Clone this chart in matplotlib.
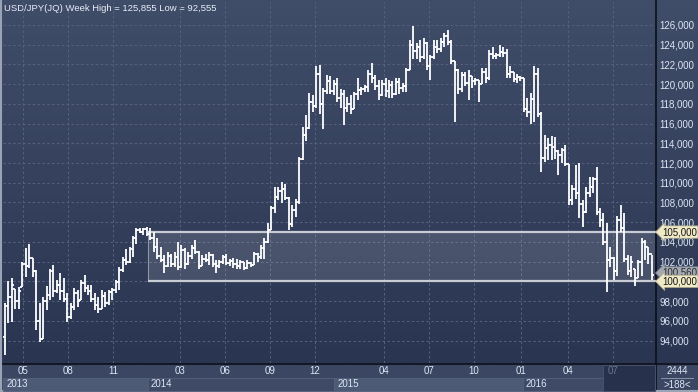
import numpy as np
import matplotlib
matplotlib.use("Agg")
import matplotlib.pyplot as plt
from matplotlib.collections import LineCollection
from matplotlib.patches import Rectangle
import matplotlib.transforms as mtrans

plt.rcParams['font.family'] = ['Liberation Sans', 'DejaVu Sans']

# ---------------- data ----------------
title = "USD/JPY(JQ) Week High = 125,855 Low = 92,555"

highs = [97.8,100.0,100.3,99.2,99.4,102.0,103.4,103.8,102.4,101.2,
         97.8,98.4,99.5,101.3,101.7,100.1,100.8,100.3,98.8,97.8,
         99.3,99.1,100.1,100.6,99.6,99.6,98.8,98.4,99.1,98.9,
         99.1,99.3,100.1,101.5,102.5,103.3,103.5,104.6,105.4,105.4,
         105.4,105.5,105.4,105.0,104.4,103.5,102.7,103.0,102.8,103.0,
         104.0,103.7,103.4,103.0,103.7,104.2,103.1,102.7,102.8,103.0,
         102.8,102.2,102.2,102.7,102.8,102.3,102.4,102.3,102.2,102.0,
         102.2,102.0,103.0,102.9,103.7,104.4,105.9,107.6,109.6,109.6,
         110.1,109.9,108.6,107.7,108.4,112.6,115.7,116.9,119.1,118.9,
         121.8,121.9,119.6,120.9,120.8,120.4,120.6,119.5,119.4,118.7,
         118.9,119.2,120.6,119.7,119.9,121.4,122.1,120.9,120.4,120.4,
         120.6,120.4,120.3,120.6,120.6,120.1,121.6,124.5,125.86,124.2,
         124.5,124.7,124.3,123.0,124.5,124.5,124.7,125.2,125.5,124.5,
         122.3,121.5,121.2,121.2,121.4,120.8,120.6,120.4,121.6,121.6,
         123.5,123.8,123.2,124.0,123.8,123.6,121.8,121.2,121.0,120.8,
         120.6,118.6,119.1,121.8,121.6,117.2,114.8,114.5,114.7,114.6,
         113.3,113.5,113.8,111.9,109.8,111.8,112.0,108.2,109.6,110.6,
         110.6,111.6,107.4,106.9,105.9,103.5,102.5,106.6,107.7,106.9,
         102.7,102.6,101.3,102.2,104.4,104.2,103.5,102.7]

lows = [92.56,95.8,95.9,97.2,97.2,99.4,100.4,101.4,100.4,95.1,
        93.8,94.2,97.1,98.1,98.4,98.8,98.1,97.9,95.9,96.2,
        97.1,97.4,98.1,98.9,98.6,97.9,97.1,96.8,97.2,97.4,
        97.6,98.1,98.8,99.1,100.9,101.7,101.9,102.5,103.8,104.9,
        104.7,104.6,104.2,103.0,102.3,102.0,100.8,101.5,101.5,101.5,
        101.2,101.4,101.3,101.7,102.3,102.8,101.3,101.6,102.0,101.7,
        101.5,100.8,101.4,101.8,101.7,101.6,101.4,101.3,101.3,101.2,
        101.3,101.5,101.7,102.0,102.3,102.3,103.9,105.2,106.9,108.2,
        107.9,108.2,105.2,105.5,106.5,107.8,112.3,114.2,115.5,117.2,
        117.6,117.0,115.5,119.0,119.0,118.9,118.2,117.6,115.9,117.2,
        117.0,117.5,118.4,118.9,119.2,119.2,120.1,119.4,118.4,118.8,
        118.7,118.6,118.6,118.9,119.0,119.2,119.2,121.4,122.5,122.6,
        122.2,122.6,121.4,120.4,122.6,123.2,123.3,123.8,124.0,122.0,
        116.2,119.0,119.2,119.8,118.4,119.6,119.9,118.2,120.0,120.1,
        120.4,122.5,122.5,122.8,122.8,120.6,120.6,120.2,120.1,120.3,
        117.2,116.7,116.0,116.2,116.7,111.1,112.1,112.3,112.3,112.4,
        110.8,112.0,111.7,107.7,107.7,108.4,106.4,105.5,106.9,108.6,
        109.0,106.7,105.5,103.7,98.9,101.5,100.1,100.5,105.0,102.0,
        100.6,100.4,99.5,100.3,100.5,102.2,101.8,100.1]

opens = [94.4,97.5,98.4,99.2,98.0,99.4,101.8,101.6,102.4,101.0,
         96.0,94.2,98.0,98.6,101.0,99.0,99.6,99.0,98.2,96.4,
         97.4,98.8,98.1,99.8,99.3,99.0,98.2,97.6,97.2,98.5,
         97.8,98.9,99.1,99.9,101.2,102.2,102.0,103.3,104.4,105.2,
         105.0,105.3,104.8,104.4,103.5,102.6,102.2,101.6,102.6,101.8,
         102.5,101.5,103.2,101.8,102.6,103.4,103.0,101.6,102.3,102.2,
         102.7,101.8,101.6,102.0,102.5,101.9,102.1,101.8,101.6,102.0,
         101.4,101.9,101.7,102.8,102.5,103.4,104.0,105.2,107.4,108.6,
         109.2,109.4,108.5,105.8,107.2,108.0,112.4,114.8,115.6,118.2,
         117.8,121.0,118.0,119.3,120.3,119.3,120.0,118.6,119.0,117.6,
         118.0,117.5,119.0,119.4,119.5,119.7,121.0,120.6,119.8,118.9,
         120.0,119.3,119.9,119.0,120.2,119.6,119.8,121.4,124.0,123.4,
         123.8,122.8,124.2,121.8,122.8,123.8,123.6,124.3,124.9,124.3,
         122.3,121.4,119.5,120.9,120.1,120.8,120.3,120.4,120.0,121.2,
         120.6,123.1,122.9,123.0,123.3,123.2,121.0,121.2,120.5,120.7,
         120.6,117.5,117.2,118.5,121.0,117.0,112.5,113.5,113.8,113.6,
         113.2,112.8,113.3,111.9,108.3,109.4,109.0,107.8,107.0,109.0,
         109.6,110.4,107.0,106.2,104.0,102.2,102.4,101.0,106.2,105.4,
         102.3,101.0,101.3,100.3,102.0,104.0,103.5,102.8]

closes = [97.5,98.4,99.6,98.0,99.0,101.8,101.6,102.4,101.0,96.0,
          94.2,98.0,98.6,101.0,99.0,99.6,99.0,98.2,96.4,97.4,
          98.8,98.0,99.8,99.3,99.0,98.2,97.6,97.2,98.5,97.8,
          98.9,99.1,99.9,101.2,102.2,102.0,103.3,104.4,105.2,105.0,
          105.3,104.8,104.4,103.5,102.6,102.2,101.6,102.6,101.8,102.5,
          101.5,103.2,101.8,102.6,103.4,103.0,101.6,102.3,102.2,102.7,
          101.8,101.6,102.0,102.5,101.9,102.1,101.8,101.6,102.0,101.4,
          101.9,101.7,102.8,102.5,103.4,104.0,105.2,107.4,108.6,109.2,
          109.4,108.5,105.8,107.2,108.0,112.4,114.8,115.6,118.2,117.8,
          121.0,118.0,119.3,120.3,119.3,120.0,118.6,119.0,117.6,118.0,
          117.5,119.0,119.4,119.5,119.7,121.0,120.6,119.8,118.9,120.0,
          119.3,119.9,119.0,120.2,119.6,119.8,121.4,124.0,123.4,123.8,
          122.8,124.2,121.8,122.8,123.8,123.6,124.3,124.9,124.3,122.3,
          121.4,119.5,120.9,120.1,120.8,120.3,120.4,120.0,121.2,120.6,
          123.1,122.9,123.0,123.3,123.2,121.0,121.2,120.5,120.7,120.6,
          117.5,117.2,118.5,121.0,117.0,112.5,113.5,113.8,113.6,113.2,
          112.8,113.3,111.9,108.3,109.4,109.0,107.8,107.0,109.0,109.6,
          110.4,107.0,106.2,104.0,102.2,102.4,101.0,106.2,105.4,102.3,
          101.0,102.0,100.3,102.0,104.0,103.5,102.8,100.6]

month_pos = [5.3, 18.3, 31.3, 50.6, 63.6, 76.6, 89.6, 109.6, 122.6, 135.6, 149.3, 162.8, 175.8]
month_labels = ["05", "08", "11", "03", "06", "09", "12", "04", "07", "10", "01", "04", "07"]
year_starts = [-0.58, 41.3, 95.2, 149.6]
year_labels = ["2013", "2014", "2015", "2016"]
yticks = list(range(94, 127, 2))
band_low, band_high = 100.0, 105.0
band_start = 41.3
current_start = 172.8
last_price = 100.85
last_price_label = "100,560"
footer_count = "2444"
footer_visible = ">188<"

# ---------------- figure ----------------
W, H = 698, 392
fig = plt.figure(figsize=(W / 100, H / 100), dpi=100)

bg = fig.add_axes([0, 0, 1, 1])
bg.set_xlim(0, W)
bg.set_ylim(H, 0)
bg.axis('off')
top_c = np.array([0x40, 0x4d, 0x69]) / 255
bot_c = np.array([0x2a, 0x35, 0x51]) / 255
t = np.linspace(0, 1, 256)[:, None]
grad = (top_c[None, :] * (1 - t) + bot_c[None, :] * t)[:, None, :]
bg.imshow(grad, extent=[0, W, 363, 0], aspect='auto', zorder=0)
bg.add_patch(Rectangle((0, 363), W, 29, fc='#3b4762', ec='none', zorder=1))
bg.plot([0, W], [363.5, 363.5], color='#0b0f18', lw=1.2, zorder=5)
bg.plot([655.5, 655.5], [0, 392], color='#0b0f18', lw=1.2, zorder=5)
bg.plot([1.2, 1.2], [0, 392], color='#9aa3b5', lw=1.5, zorder=6)
bg.plot([0, W], [391.2, 391.2], color='#9aa3b5', lw=1.5, zorder=6)
bg.text(4, 8, title, fontsize=6.8, color='#e8edf6', ha='left', va='center', zorder=6)
bg.text(677, 371, footer_count, fontsize=7, color='#dde6f4', ha='center', va='center', zorder=6)
bg.plot([661, 693], [377.5, 377.5], color='#8a94a8', lw=0.7, zorder=6)
bg.text(677, 385, footer_visible, fontsize=7, color='#dde6f4', ha='center', va='center', zorder=6)

ax = fig.add_axes([3 / W, 29 / H, 652 / W, 361 / H])
ax.patch.set_alpha(0)
xmax = len(highs) - 0.1
ax.set_xlim(-0.58, xmax)
ax.set_ylim(91.72, 128.33)
for s in ax.spines.values():
    s.set_visible(False)

ax.set_yticks(yticks)
ax.set_yticklabels([f"{v * 1000:,}" for v in yticks])
ax.yaxis.tick_right()
ax.tick_params(axis='y', length=0, pad=3, labelsize=7, labelcolor='#dde6f4')
ax.set_xticks(month_pos)
ax.set_xticklabels([])
ax.tick_params(axis='x', length=0)
ax.grid(True, color='#56637e', lw=0.7, linestyle=(0, (2.5, 2.5)), zorder=1)
ax.set_axisbelow(True)

# band
ax.add_patch(Rectangle((band_start, band_low), xmax - band_start, band_high - band_low,
                       fc='white', alpha=0.12, ec='none', zorder=2))
ax.plot([band_start, band_start], [band_low, band_high], color='#8d96a8', lw=0.8, zorder=2)
for lvl in (band_low, band_high):
    ax.plot([band_start, xmax + 0.6], [lvl, lvl], color='#c8ccd5', lw=1.6,
            zorder=3, clip_on=False, solid_capstyle='butt')

# OHLC bars
segs = []
tk = 0.55
for i, (o, h, l, c) in enumerate(zip(opens, highs, lows, closes)):
    segs.append([(i, l), (i, h)])
    segs.append([(i - tk, o), (i, o)])
    segs.append([(i, c), (i + tk, c)])
ax.add_collection(LineCollection(segs, colors='white', linewidths=1.3, zorder=4,
                                 capstyle='butt'))

# price tags
bt = mtrans.blended_transform_factory(ax.transAxes, ax.transData)
x_tag = 1.0 + 7 / 652
ax.text(x_tag, last_price, last_price_label, transform=bt, fontsize=7, color='#2a2a2a',
        ha='left', va='center', clip_on=False, zorder=6,
        bbox=dict(boxstyle='larrow,pad=0.12', fc='#a4a9b3', ec='#7d828c', lw=0.5))
for lvl in (band_high, band_low):
    ax.text(x_tag, lvl, f"{int(lvl * 1000):,}", transform=bt, fontsize=7, color='#151515',
            ha='left', va='center', clip_on=False, zorder=7,
            bbox=dict(boxstyle='larrow,pad=0.12', fc='#efe9c6', ec='#a9a58c', lw=0.5))

# bottom panel: year boxes, month labels
xt = ax.get_xaxis_transform()
y0, y1 = -28 / 361, -14.5 / 361
bounds = year_starts + [xmax]
fills = ['#4d5a75', '#3f4b66', '#4d5a75', '#3f4b66']
for k, lab in enumerate(year_labels):
    ax.add_patch(Rectangle((bounds[k], y0), bounds[k + 1] - bounds[k], y1 - y0,
                           transform=xt, fc=fills[k], ec='#56627c', lw=0.6,
                           clip_on=False, zorder=2))
    ax.text(bounds[k] + 0.9, (y0 + y1) / 2, lab, transform=xt, fontsize=7,
            color='#dde6f4', ha='left', va='center', clip_on=False, zorder=5)
ax.add_patch(Rectangle((current_start, y0), xmax - current_start, -1.5 / 361 - y0,
                       transform=xt, fc='#27314b', ec='#4a5670', lw=0.6,
                       clip_on=False, zorder=2.5))
for k, (p, lab) in enumerate(zip(month_pos, month_labels)):
    col = '#6c7791' if p > current_start else '#dde6f4'
    ax.text(p, -8.5 / 361, lab, transform=xt, fontsize=7, color=col,
            ha='center', va='center', clip_on=False, zorder=5)

fig.savefig('out.png', dpi=100)
